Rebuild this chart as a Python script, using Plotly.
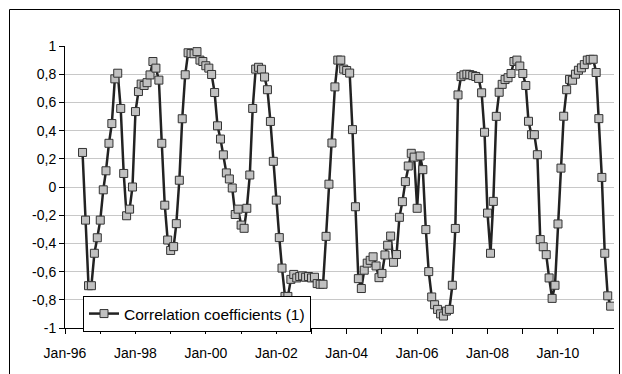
import pandas as pd
import plotly.graph_objects as go

start_month = "1996-07-01"
series_name = "Correlation coefficients (1)"
corr_values = [
    0.245, -0.235, -0.70, -0.70, -0.47, -0.36, -0.235, -0.02, 0.115, 0.31, 0.45, 0.767,
    0.807, 0.557, 0.096, -0.204, -0.157, 0.0, 0.535, 0.677, 0.73, 0.72, 0.74, 0.795,
    0.89, 0.843, 0.758, 0.31, -0.129, -0.376, -0.45, -0.423, -0.26, 0.048, 0.484, 0.796,
    0.952, 0.947, 0.945, 0.96, 0.9, 0.89, 0.86, 0.843, 0.798, 0.67, 0.434, 0.34,
    0.228, 0.10, 0.057, -0.007, -0.195, -0.157, -0.27, -0.293, -0.151, 0.085, 0.557, 0.836,
    0.849, 0.835, 0.78, 0.69, 0.465, 0.182, -0.093, -0.359, -0.575, -0.776, -0.776, -0.655,
    -0.62, -0.645, -0.635, -0.63, -0.64, -0.635, -0.645, -0.64, -0.685, -0.69, -0.69, -0.35,
    0.02, 0.312, 0.71, 0.9, 0.9, 0.836, 0.826, 0.808, 0.407, -0.14, -0.65, -0.72,
    -0.59, -0.54, -0.52, -0.495, -0.56, -0.643, -0.613, -0.482, -0.413, -0.348, -0.534, -0.479,
    -0.215, -0.104, 0.038, 0.149, 0.239, 0.212, -0.151, 0.22, 0.123, -0.302, -0.60, -0.78,
    -0.835, -0.868, -0.90, -0.915, -0.88, -0.868, -0.697, -0.294, 0.653, 0.783, 0.795, 0.80,
    0.797, 0.79, 0.784, 0.77, 0.668, 0.388, -0.185, -0.47, -0.102, 0.501, 0.672, 0.728,
    0.762, 0.775, 0.805, 0.89, 0.90, 0.858, 0.805, 0.72, 0.466, 0.371, 0.371, 0.229,
    -0.373, -0.424, -0.48, -0.645, -0.79, -0.697, -0.262, 0.134, 0.502, 0.69, 0.763, 0.757,
    0.80, 0.828, 0.845, 0.868, 0.90, 0.905, 0.906, 0.812, 0.485, 0.068, -0.47, -0.772,
    -0.845,
]
dates = pd.date_range(start_month, periods=len(corr_values), freq="MS")

y_tickvals = [-1, -0.8, -0.6, -0.4, -0.2, 0, 0.2, 0.4, 0.6, 0.8, 1]
y_ticktext = ["-1", "-0,8", "-0,6", "-0,4", "-0,2", "0", "0,2", "0,4", "0,6", "0,8", "1"]

W, H = 622, 374
L, R, T, B = 65, 8, 46, 46
pw, ph = W - L - R, H - T - B

def px_x(p):
    return (p - L) / pw

def px_y(p):
    return (H - B - p) / ph

fig = go.Figure()
fig.add_trace(go.Scatter(
    x=dates, y=corr_values, mode="lines+markers", name=series_name,
    line=dict(color="#222222", width=2.5),
    marker=dict(symbol="square", size=8, color="#c0c0c0",
                line=dict(color="#333333", width=1)),
))

fig.update_layout(
    width=W, height=H, autosize=False,
    margin=dict(l=L, r=R, t=T, b=B),
    paper_bgcolor="white", plot_bgcolor="white",
    font=dict(family="Arial, Liberation Sans, sans-serif", size=14, color="black"),
    showlegend=True,
    legend=dict(x=px_x(83), y=px_y(296), xanchor="left", yanchor="top",
                bgcolor="white", bordercolor="black", borderwidth=1,
                font=dict(size=15.5)),
    xaxis=dict(
        type="date", range=["1996-01-01", "2011-08-05"],
        tick0="1996-01-01", dtick="M24", tickformat="%b-%y",
        ticks="outside", ticklen=5, tickcolor="black",
        showgrid=False, showline=True, linecolor="black", linewidth=1,
        ticklabelstandoff=7,
        minor=dict(dtick="M12", tick0="1996-01-01", ticks="outside", ticklen=5,
                   tickcolor="black", showgrid=False),
    ),
    yaxis=dict(
        range=[-1, 1], tickvals=y_tickvals, ticktext=y_ticktext,
        ticks="outside", ticklen=5, tickcolor="black",
        showgrid=True, gridcolor="#c8c8c8", gridwidth=1,
        zeroline=False, showline=True, linecolor="black", linewidth=1,
    ),
    shapes=[dict(type="rect", xref="paper", yref="paper",
                 x0=px_x(9.5), x1=px_x(619.5), y0=px_y(380), y1=px_y(9.5),
                 line=dict(color="black", width=1), layer="below")],
)

fig.write_html("out.html", config={"displayModeBar": False})
